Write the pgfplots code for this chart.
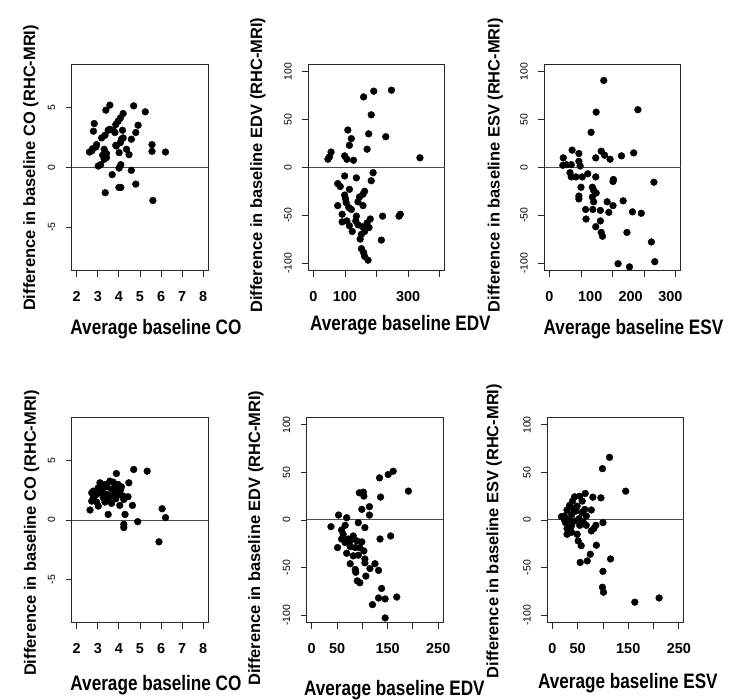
\documentclass[border=0pt]{standalone}
\usepackage{fontspec}
\setmainfont{Liberation Sans}
\newfontfamily\narrowfont[FakeStretch=0.82]{Liberation Sans Bold}
\usepackage{pgfplots}
\pgfplotsset{compat=1.18}

\pgfplotsset{
  panel/.style={
    scale only axis, width=136.6bp,
    axis line style={line width=0.9bp, black!85},
    tick align=outside, major tick length=6bp,
    every tick/.style={line width=0.9bp, black!85},
    xtick pos=bottom, ytick pos=left,
    /pgf/number format/assume math mode=true,
    yticklabel style={font=\fontsize{10.5}{10.5}\selectfont, xshift=-7bp, rotate=90, anchor=south},
    xticklabel style={font=\fontsize{14.5}{14.5}\selectfont\bfseries, yshift=-11bp},
    xlabel style={font=\fontsize{21}{21}\narrowfont, anchor=center},
    ylabel style={font=\fontsize{16.5}{16.5}\selectfont\bfseries, anchor=center},
  },
  co/.style={xmin=1.76, xmax=8.24, ymin=-8.64, ymax=8.64,
    xtick={2,3,4,5,6,7,8}, ytick={-5,0,5}, yticklabels={-5,0,5}},
  vol/.style={ymin=-108, ymax=108, ytick={-100,-50,0,50,100},
    yticklabels={-100,-50,0,50,100}},
  dots/.style={only marks, mark=*, mark size=3.4bp, black},
  zero/.style={black!70, line width=1bp, mark=none},
}

\begin{document}
\begin{tikzpicture}
\useasboundingbox (0,0) rectangle (731bp,700bp);

% ---- top row ----
\begin{axis}[panel, co, height=206.7bp, at={(71.7bp,429.3bp)}, anchor=south west,
  xlabel={Average baseline CO}, ylabel={Difference in baseline CO (RHC-MRI)},
  xlabel style={at={(axis description cs:0.617,-0.282)}},
  ylabel style={at={(axis description cs:-0.298,0.497)}}]
\addplot[zero] coordinates {(1.7,0) (8.3,0)};
\addplot[dots] coordinates {
(3.57,5.2)(3.38,4.78)(4.70,5.14)(5.25,4.64)(4.20,4.5)(4.07,4.13)(3.96,3.85)
(3.85,3.58)(2.83,3.66)(4.91,3.52)(2.79,3.02)(3.49,3.10)(3.73,3.10)(3.81,2.91)
(4.17,3.10)(4.80,2.91)(3.34,2.68)(3.18,2.46)(4.59,2.35)(4.12,2.35)(4.07,2.07)
(3.85,1.84)(2.94,1.90)(5.57,1.90)(5.57,1.34)(2.75,1.56)(2.60,1.28)(3.30,1.51)
(4.36,1.51)(4.01,1.23)(4.48,1.06)(6.21,1.28)(3.23,1.01)(3.41,0.81)(3.30,0.67)
(3.13,0.22)(4.09,0.22)(4.01,-0.06)(4.59,-0.25)(3.68,-0.61)(4.80,-1.40)
(4.09,-1.68)(4.00,-1.68)(3.35,-2.12)(5.61,-2.77)(3.02,0.11)(3.57,3.18)
(2.71,1.37)(2.91,1.70)(3.88,1.79)(4.20,2.46)(3.41,1.15)};
\end{axis}

\begin{axis}[panel, vol, height=206.7bp, at={(308.3bp,429.3bp)}, anchor=south west,
  xmin=-16, xmax=416, xtick={0,100,200,300,400}, xticklabels={0,100,,300,},
  xlabel={Average baseline EDV}, ylabel={Difference in baseline EDV (RHC-MRI)},
  xlabel style={at={(axis description cs:0.674,-0.263)}},
  ylabel style={at={(axis description cs:-0.37,0.51)}}]
\addplot[zero] coordinates {(-20,0) (420,0)};
\addplot[dots] coordinates {
(159,73.6)(191,79.6)(247,80.6)(183,54.9)(229,32)(109,39)(120,30)(175,35)
(114,23)(170,19)(56,16)(337,10)(51,11)(46,8.5)(99,12)(106,8.5)(127,7.4)
(189,-5.6)(183,-14)(136,-11)(99,-9)(77,-17)(85,-20)(114,-23)(162,-25)
(157,-28)(146,-31)(141,-36)(99,-29)(102,-33)(104,-37)(112,-42)(120,-44)
(157,-40)(77,-40)(91,-49)(219,-51)(275,-49)(271,-51)(91,-57)(106,-56)
(134,-56)(141,-60)(155,-62)(170,-58)(176,-63)(162,-67)(152,-70)(114,-61)
(123,-67)(148,-75)(215,-76)(152,-85)(159,-89)(162,-93)(173,-97)(180,-54)
(136,-51)};
\end{axis}

\begin{axis}[panel, vol, height=206.7bp, at={(544.3bp,429.3bp)}, anchor=south west,
  xmin=-12, xmax=312, xtick={0,75,150,225,300}, xticklabels={,,,,},
  extra x ticks={0,97,193,287}, extra x tick labels={0,100,200,300},
  extra x tick style={major x tick style={opacity=0}},
  xlabel={Average baseline ESV}, ylabel={Difference in baseline ESV (RHC-MRI)},
  xlabel style={at={(axis description cs:0.653,-0.282)}},
  ylabel style={at={(axis description cs:-0.359,0.51)}}]
\addplot[zero] coordinates {(-20,0) (320,0)};
\addplot[dots] coordinates {
(129,90.8)(111,57.7)(210,60.2)(99,36.6)(54,18)(70,14.4)(123,16.9)(131,12.7)
(110,9.9)(144,8.5)(171,12)(200,15.1)(33,9.9)(32,2.1)(41,2.8)(52,2.8)(70,6.3)
(73,1.4)(49,-5.6)(52,-10)(63,-10)(78,-10)(91,-6.7)(110,-10)(152,-12.7)
(151,-14.8)(248,-15.5)(75,-20.8)(102,-20.8)(70,-30)(70,-33)(105,-24)
(111,-26.8)(102,-31)(105,-36)(137,-36)(175,-35)(151,-40)(141,-47)(103,-44)
(86,-44)(121,-45)(197,-46.5)(218,-48)(87,-54)(121,-56)(110,-62)(123,-68)
(126,-72)(184,-68)(242,-78)(163,-100.7)(190,-104)(250,-98.6)};
\end{axis}

% ---- bottom row ----
\begin{axis}[panel, co, height=205.4bp, at={(71.7bp,77.3bp)}, anchor=south west,
  xlabel={Average baseline CO}, ylabel={Difference in baseline CO (RHC-MRI)},
  xlabel style={at={(axis description cs:0.617,-0.303)}},
  ylabel style={at={(axis description cs:-0.294,0.437)}}]
\addplot[zero] coordinates {(1.7,0) (8.3,0)};
\addplot[dots] coordinates {
(4.70,4.25)(5.34,4.11)(3.88,3.91)(4.47,3.13)(3.10,3.13)(3.34,2.99)(3.57,3.27)
(3.73,3.18)(3.96,2.99)(4.12,2.79)(3.02,2.71)(3.23,2.63)(3.44,2.79)(3.65,2.57)
(3.85,2.43)(2.79,2.43)(2.71,2.29)(2.94,2.15)(3.41,2.15)(3.73,2.15)(4.01,2.15)
(4.20,2.01)(4.43,1.96)(3.26,1.87)(3.49,1.79)(3.85,1.79)(4.23,1.73)(2.71,1.59)
(2.94,1.51)(3.34,1.51)(3.65,1.40)(3.02,1.17)(4.04,1.23)(4.64,1.23)(2.63,0.84)
(6.05,0.95)(3.49,0.47)(4.29,0.47)(6.21,0.20)(4.89,-0.14)(4.23,-0.36)
(4.23,-0.64)(5.90,-1.84)(2.79,1.87)(3.18,2.29)(3.80,2.79)(3.57,2.01)(4.07,2.51)};
\end{axis}

\begin{axis}[panel, vol, height=205.4bp, at={(306.7bp,77.3bp)}, anchor=south west,
  xmin=-10, xmax=260, xtick={0,50,100,150,200,250}, xticklabels={0,50,,150,,250},
  xlabel={Average baseline EDV}, ylabel={Difference in baseline EDV (RHC-MRI)},
  xlabel style={at={(axis description cs:0.642,-0.328)}},
  ylabel style={at={(axis description cs:-0.373,0.412)}}]
\addplot[zero] coordinates {(-20,0) (270,0)};
\addplot[dots] coordinates {
(161,51.3)(151,47.8)(134,44.3)(191,30.4)(94,28.6)(102,29.3)(103,25.1)(136,24.1)
(114,14)(99,11.2)(114,5.2)(53,5.2)(69,2.4)(38,-7)(66,-5.6)(105,-8)(92,-2.8)
(135,-20)(156,-16.8)(59,-10.5)(62,-15)(72,-20)(82,-16.8)(89,-22)(99,-23)
(66,-23.7)(76,-28)(86,-29)(95,-29)(103,-32.5)(51,-29)(69,-35)(82,-37.7)
(92,-37)(105,-41)(76,-46)(105,-45)(125,-46)(132,-53)(115,-51)(86,-52)
(87,-55)(107,-59)(90,-64)(95,-66)(138,-72)(132,-82)(145,-83)(168,-81)
(120,-89)(145,-103)(59,-20)(76,-22)};
\end{axis}

\begin{axis}[panel, vol, height=205.4bp, at={(547.3bp,77.3bp)}, anchor=south west,
  xmin=-10, xmax=260, xtick={0,50,100,150,200,250}, xticklabels={0,50,,150,,250},
  xlabel={Average baseline ESV}, ylabel={Difference in baseline ESV (RHC-MRI)},
  xlabel style={at={(axis description cs:0.59,-0.294)}},
  ylabel style={at={(axis description cs:-0.39,0.446)}}]
\addplot[zero] coordinates {(-20,0) (270,0)};
\addplot[dots] coordinates {
(113,65.9)(99,54)(145,30.3)(65,27.9)(54,25)(44,24.4)(80,24)(96,23.3)(40,19.9)
(59,19.9)(34,15.3)(49,14.6)(64,11.1)(77,10.5)(29,10.5)(24,4.2)(18,3.5)(38,5.9)
(67,4.2)(44,-1)(53,1.4)(61,-2.1)(26,-2.8)(38,-5.6)(54,-5.6)(67,-5.6)(100,-2.8)
(86,-5.6)(82,-9)(77,-11.5)(29,-9)(38,-13)(49,-15)(29,-15)(51,-22)(57,-27)
(87,-26.5)(75,-36)(115,-41)(69,-43)(55,-44.6)(100,-54)(99,-70.7)(101,-76)
(163,-86.4)(211,-82)(34,0.7)(46,9.4)(24,0)(42,12)(36,-8)(58,8)};
\end{axis}
\end{tikzpicture}
\end{document}
